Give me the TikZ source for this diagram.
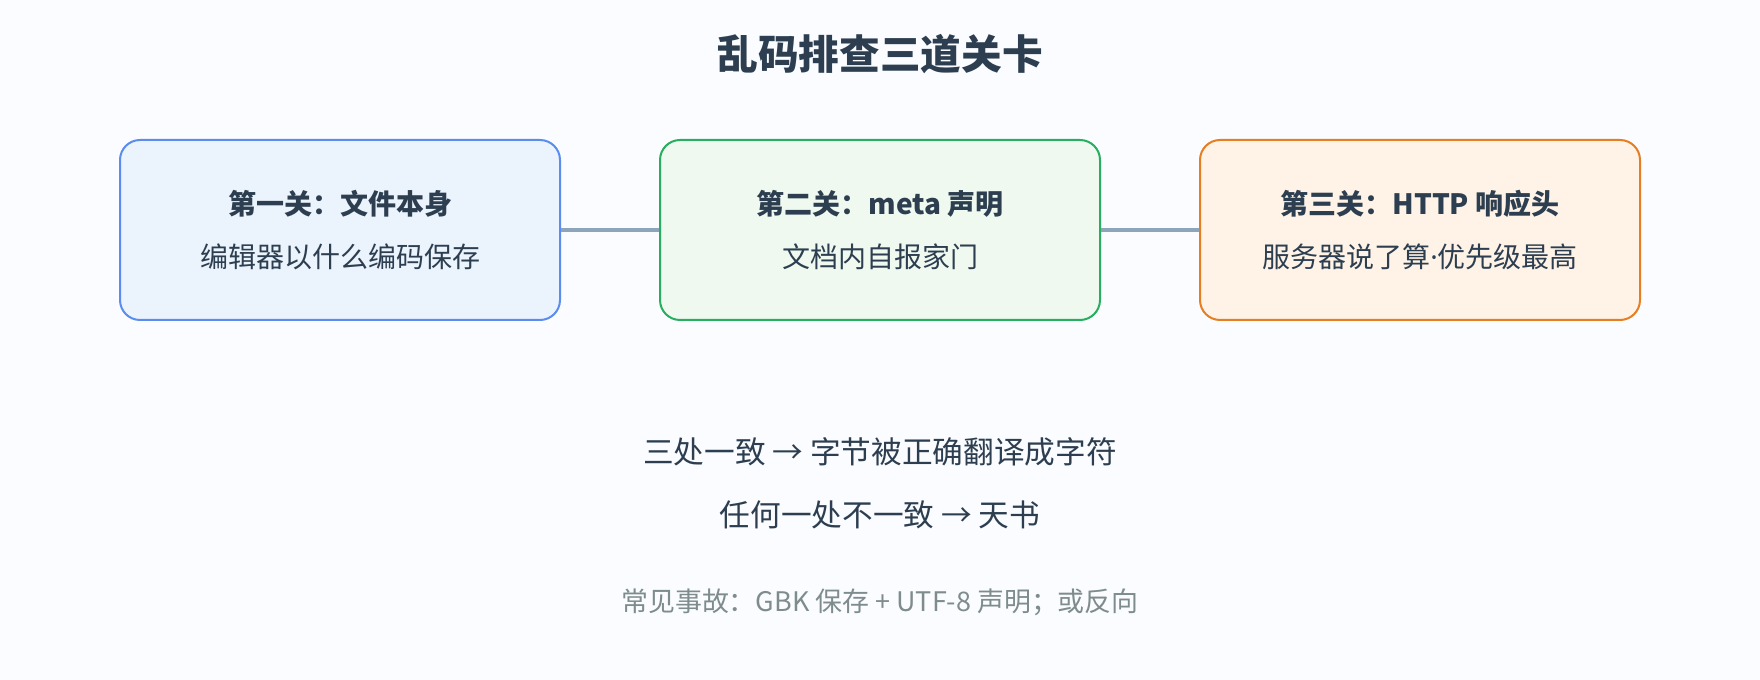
\documentclass[tikz,border=0pt]{standalone}
\usepackage{fontspec}
\setmainfont{Noto Sans CJK SC}
\newfontfamily\latinfont{Noto Sans}
\definecolor{ink}{HTML}{2C3E50}
\definecolor{note}{HTML}{7F8C8D}
\definecolor{bg}{HTML}{FAFCFF}
\definecolor{linkc}{HTML}{8DA4BD}
\definecolor{blueedge}{HTML}{5B8DEF}
\definecolor{bluefill}{HTML}{EBF3FD}
\definecolor{greenedge}{HTML}{27AE60}
\definecolor{greenfill}{HTML}{EFF9F0}
\definecolor{orangeedge}{HTML}{E67E22}
\definecolor{orangefill}{HTML}{FEF3E6}

\begin{document}
\begin{tikzpicture}[x=0.75pt,y=-0.75pt,
	gate/.style={line width=1.5pt, rounded corners=15pt, minimum width=330pt,
		minimum height=135pt, align=center, text=ink,
		font=\fontsize{21}{40}\selectfont},
	link/.style={draw=linkc, line width=3pt}]
	\fill[bg] (0,0) rectangle (1760,680);

	\node[text=ink, font=\fontsize{30.5}{36}\selectfont\bfseries] (title) at (880,54) {乱码排查三道关卡};

	\node[gate, draw=blueedge, fill=bluefill] (b1) at (340,230)
	{{\bfseries 第一关：文件本身}\\编辑器以什么编码保存};
	\node[gate, draw=greenedge, fill=greenfill] (b2) at (880,230)
	{{\bfseries 第二关：meta 声明}\\文档内自报家门};
	\node[gate, draw=orangeedge, fill=orangefill] (b3) at (1420,230)
	{{\bfseries 第三关：HTTP 响应头}\\服务器说了算{\latinfont ·}优先级最高};

	\foreach \a/\b in {b1/b2, b2/b3}
	\draw[link] (\a.east) -- (\b.west);

	\node[text=ink, font=\fontsize{23}{28}\selectfont] (agree) at (880,452) {三处一致 → 字节被正确翻译成字符};
	\node[text=ink, font=\fontsize{23}{28}\selectfont] (differ) at (880,515) {任何一处不一致 → 天书};
	\node[text=note, font=\fontsize{20.2}{24}\selectfont] (accident) at (880,602) {常见事故：GBK 保存 + UTF-8 声明；或反向};
\end{tikzpicture}
\end{document}
